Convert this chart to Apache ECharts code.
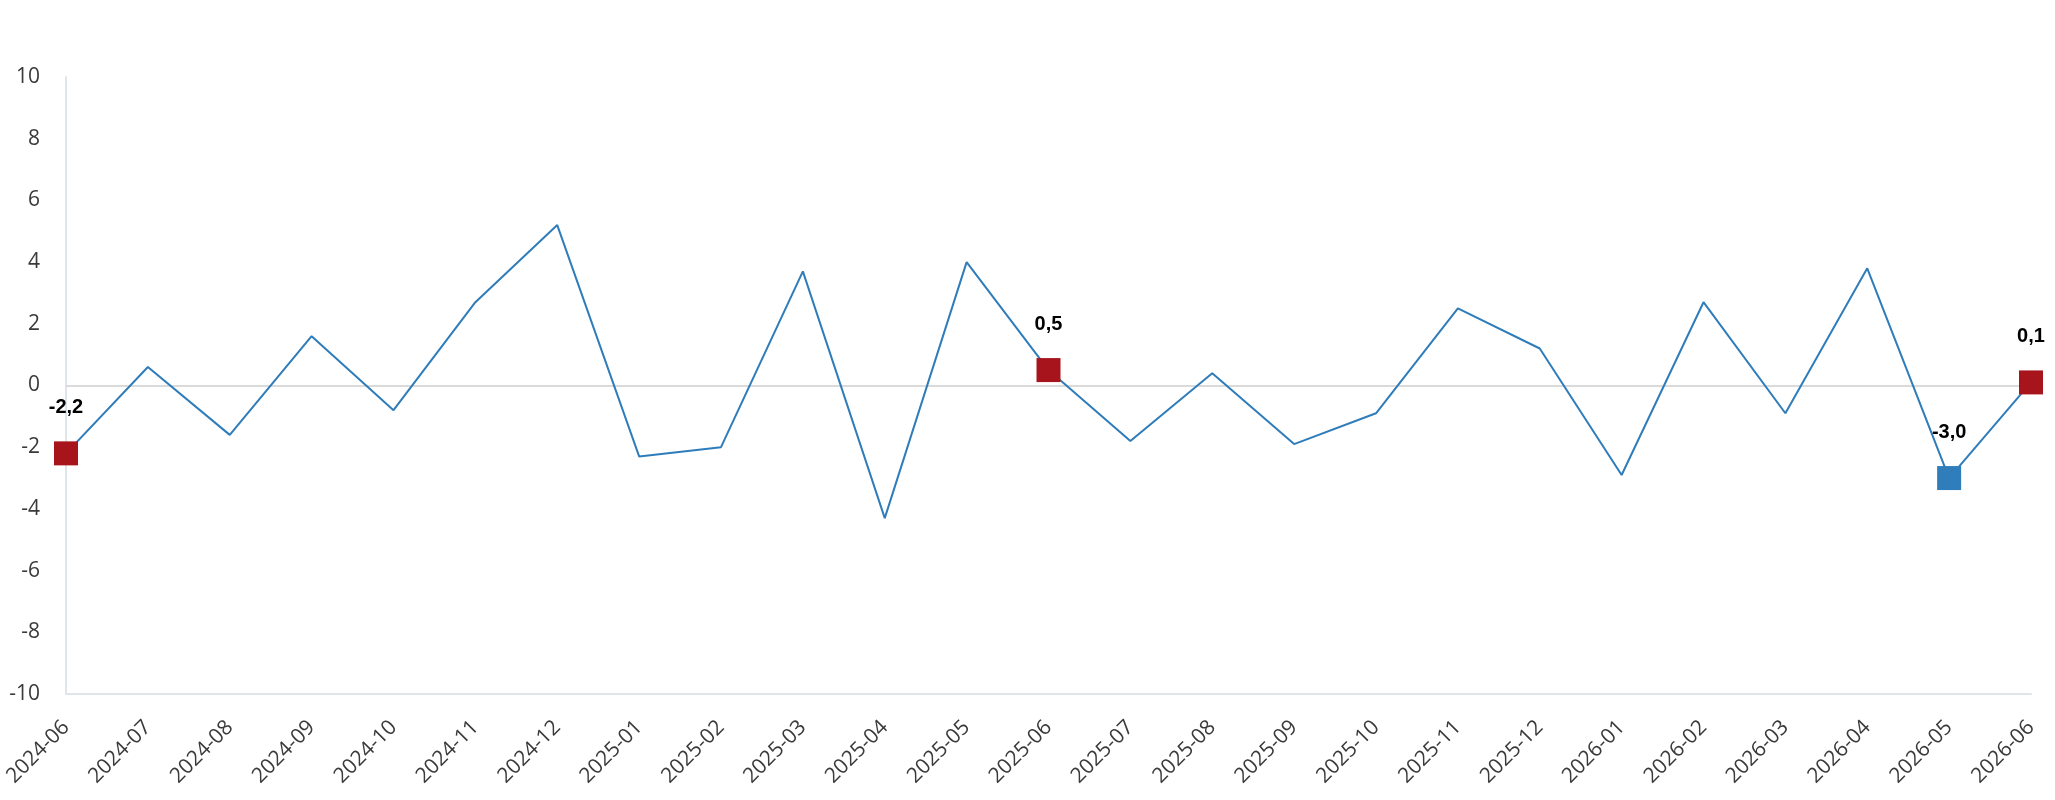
<!DOCTYPE html>
<html>
<head>
<meta charset="utf-8">
<script src="https://cdn.jsdelivr.net/npm/echarts@6/dist/echarts.min.js"></script>
<style>
html,body{margin:0;padding:0;background:#fff;}
#chart{width:2055px;height:800px;}
</style>
</head>
<body>
<div id="chart"></div>
<script>
const categories = ['2024-06','2024-07','2024-08','2024-09','2024-10','2024-11','2024-12','2025-01','2025-02','2025-03','2025-04','2025-05','2025-06','2025-07','2025-08','2025-09','2025-10','2025-11','2025-12','2026-01','2026-02','2026-03','2026-04','2026-05','2026-06'];
const values = [-2.2, 0.6, -1.6, 1.6, -0.8, 2.7, 5.2, -2.3, -2.0, 3.7, -4.3, 4.0, 0.5, -1.8, 0.4, -1.9, -0.9, 2.5, 1.2, -2.9, 2.7, -0.9, 3.8, -3.0, 0.1];
const markedIndex = [0, 12, 23, 24];
const markedColor = ['#a8141c', '#a8141c', '#2f7dbb', '#a8141c'];
const yTicks = { min: -10, max: 10, interval: 2 };

const seriesData = values.map((v, i) => {
  const k = markedIndex.indexOf(i);
  if (k < 0) return { value: v };
  return {
    value: v,
    symbol: 'rect',
    symbolSize: 24,
    itemStyle: { color: markedColor[k] },
    label: {
      show: true,
      position: 'top',
      distance: 24,
      formatter: p => p.value.toFixed(1).replace('.', ','),
      fontFamily: '"Liberation Sans", Arial, sans-serif',
      fontWeight: 'bold',
      fontSize: 20,
      color: '#000'
    }
  };
});

const chart = echarts.init(document.getElementById('chart'));
chart.setOption({
  animation: false,
  backgroundColor: '#fff',
  grid: { left: 66, right: 24, top: 77, bottom: 106, containLabel: false, outerBoundsMode: 'none' },
  xAxis: {
    type: 'category',
    data: categories,
    boundaryGap: false,
    axisLine: { onZero: false, lineStyle: { color: '#e0e4eb', width: 2 } },
    axisTick: { show: false },
    axisLabel: {
      interval: 0,
      rotate: 45,
      margin: 30,
      fontSize: 21,
      fontFamily: '"Open Sans", sans-serif',
      color: '#3a3a3a'
    },
    splitLine: { show: false }
  },
  yAxis: {
    type: 'value',
    min: yTicks.min,
    max: yTicks.max,
    interval: yTicks.interval,
    axisLine: { show: true, lineStyle: { color: '#e0e4eb', width: 2 } },
    axisTick: { show: false },
    splitLine: { show: false },
    axisLabel: {
      margin: 26,
      fontSize: 21,
      fontFamily: '"Open Sans", sans-serif',
      color: '#3a3a3a'
    }
  },
  series: [{
    type: 'line',
    data: seriesData,
    symbol: 'none',
    showSymbol: true,
    lineStyle: { color: '#2e7cba', width: 2 },
    itemStyle: { color: '#2e7cba' },
    z: 3,
    markLine: {
      silent: true,
      symbol: 'none',
      label: { show: false },
      lineStyle: { color: '#dadada', width: 2, type: 'solid' },
      data: [{ yAxis: 0 }],
      z: 1
    }
  }]
});
</script>
</body>
</html>
